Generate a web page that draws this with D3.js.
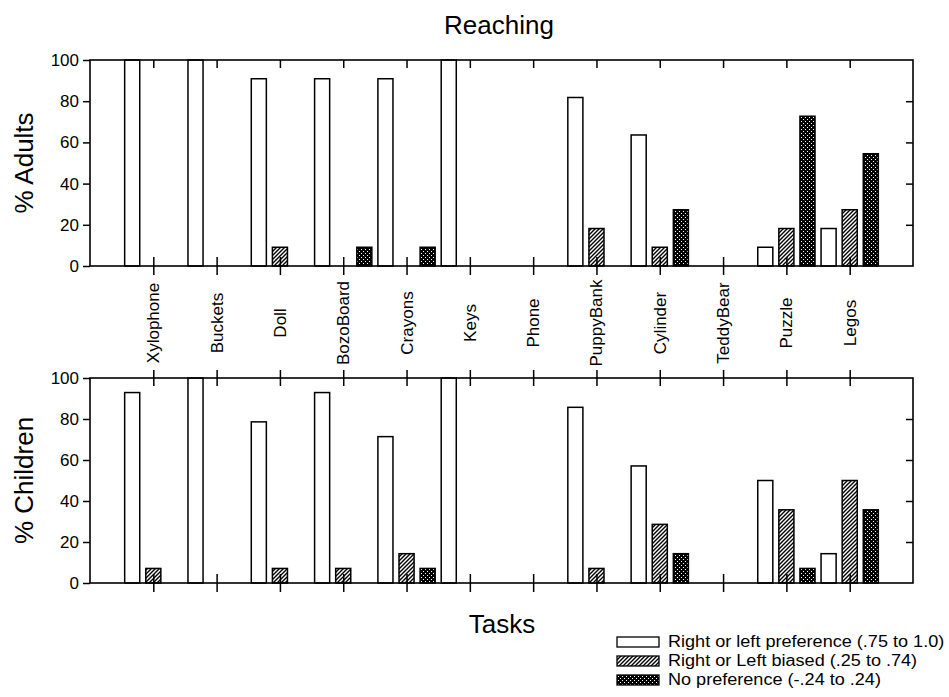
<!DOCTYPE html>
<html>
<head>
<meta charset="utf-8">
<script src="https://cdn.jsdelivr.net/npm/d3@7"></script>
<style>
  body { margin: 0; background: #fff; }
  svg { font-family: "Liberation Sans", Arial, sans-serif; }
</style>
</head>
<body>
<div id="chart"></div>
<script>
// tasks along the x axis
const tasks = ['Xylophone', 'Buckets', 'Doll', 'BozoBoard', 'Crayons', 'Keys',
  'Phone', 'PuppyBank', 'Cylinder', 'TeddyBear', 'Puzzle', 'Legos'];
const seriesKeys = ['pref', 'biased', 'none'];
const seriesLabels = ['Right or left preference (.75 to 1.0)',
  'Right or Left biased (.25 to .74)', 'No preference (-.24 to .24)'];

// % adults
const adultsPref   = [100, 100, 90.9, 90.9, 90.9, 100, 0, 81.8, 63.6, 0, 9.1, 18.2];
const adultsBiased = [0, 0, 9.1, 0, 0, 0, 0, 18.2, 9.1, 0, 18.2, 27.3];
const adultsNone   = [0, 0, 0, 9.1, 9.1, 0, 0, 0, 27.3, 0, 72.7, 54.5];
// % children
const childrenPref   = [92.9, 100, 78.6, 92.9, 71.4, 100, 0, 85.7, 57.1, 0, 50, 14.3];
const childrenBiased = [7.1, 0, 7.1, 7.1, 14.3, 0, 0, 7.1, 28.6, 0, 35.7, 50];
const childrenNone   = [0, 0, 0, 0, 7.1, 0, 0, 0, 14.3, 0, 7.1, 35.7];

const yTicks = [0, 20, 40, 60, 80, 100];

const width = 949, height = 697;
const left = 90, right = 913;

const svg = d3.select('#chart')
  .append('svg')
  .attr('width', width)
  .attr('height', height);

// fill patterns
const defs = svg.append('defs');
const hatch = defs.append('pattern')
  .attr('id', 'hatch')
  .attr('patternUnits', 'userSpaceOnUse')
  .attr('width', 4)
  .attr('height', 4);
hatch.append('rect').attr('width', 4).attr('height', 4).attr('fill', '#fff');
hatch.append('path')
  .attr('d', 'M-1,1 l2,-2 M0,4 l4,-4 M3,5 l2,-2')
  .attr('stroke', '#000')
  .attr('stroke-width', 1.4);

const dots = defs.append('pattern')
  .attr('id', 'dots')
  .attr('patternUnits', 'userSpaceOnUse')
  .attr('width', 4)
  .attr('height', 4);
dots.append('rect').attr('width', 4).attr('height', 4).attr('fill', '#000');
dots.append('rect').attr('x', 1).attr('y', 1).attr('width', 1).attr('height', 1).attr('fill', '#fff');
dots.append('rect').attr('x', 3).attr('y', 3).attr('width', 1).attr('height', 1).attr('fill', '#fff');

const fills = { pref: '#fff', biased: 'url(#hatch)', none: 'url(#dots)' };

// x scales: tick positions at 0..13, tasks sit on 1..12
const xLin = d3.scaleLinear().domain([0, 13]).range([left, right]);
const x = d3.scaleBand()
  .domain(tasks)
  .range([xLin(0.5), xLin(12.5)]);
const xSub = d3.scaleBand()
  .domain(seriesKeys)
  .range([0, x.bandwidth()])
  .paddingInner(0.286)
  .paddingOuter(0.143);

const xTickVals = d3.range(1, 13);

const drawPanel = (top, bottom, label, pref, biased, none, topTicksCross) => {
  const y = d3.scaleLinear().domain([0, 100]).range([bottom, top]);
  const g = svg.append('g');

  const rows = tasks.map((t, i) => ({ task: t, pref: pref[i], biased: biased[i], none: none[i] }));
  const bars = [];
  rows.forEach(r => seriesKeys.forEach(k => {
    if (r[k] > 0) bars.push({ task: r.task, key: k, value: r[k] });
  }));

  g.selectAll('rect.bar')
    .data(bars)
    .enter()
    .append('rect')
    .attr('class', 'bar')
    .attr('x', d => x(d.task) + xSub(d.key))
    .attr('y', d => y(d.value))
    .attr('width', xSub.bandwidth())
    .attr('height', d => y(0) - y(d.value))
    .attr('fill', d => fills[d.key])
    .attr('stroke', '#000')
    .attr('stroke-width', 1.5);

  // frame
  g.append('rect')
    .attr('x', left)
    .attr('y', top)
    .attr('width', right - left)
    .attr('height', bottom - top)
    .attr('fill', 'none')
    .attr('stroke', '#000')
    .attr('stroke-width', 1.6);

  // left axis with labels
  const yAxis = g.append('g')
    .attr('transform', `translate(${left},0)`)
    .call(d3.axisLeft(y).tickValues(yTicks).tickSize(7).tickPadding(4));
  yAxis.select('.domain').remove();
  yAxis.selectAll('line').attr('stroke-width', 1.5);
  yAxis.selectAll('text')
    .attr('font-size', 17)
    .attr('font-family', '"Liberation Sans", Arial, sans-serif')
    .attr('fill', '#000');

  // right axis, inward ticks
  const yRight = g.append('g')
    .attr('transform', `translate(${right},0)`)
    .call(d3.axisLeft(y).tickValues(yTicks.slice(1, -1)).tickSize(7).tickFormat(''));
  yRight.select('.domain').remove();
  yRight.selectAll('line').attr('stroke-width', 1.5);

  // bottom ticks crossing the axis
  [d3.axisBottom, d3.axisTop].forEach(ax => {
    const a = g.append('g')
      .attr('transform', `translate(0,${bottom})`)
      .call(ax(xLin).tickValues(xTickVals).tickSize(9).tickFormat(''));
    a.select('.domain').remove();
    a.selectAll('line').attr('stroke-width', 1.5);
  });

  // top ticks
  const topAxes = topTicksCross ? [d3.axisBottom, d3.axisTop] : [d3.axisBottom];
  topAxes.forEach(ax => {
    const a = g.append('g')
      .attr('transform', `translate(0,${top})`)
      .call(ax(xLin).tickValues(xTickVals).tickSize(8).tickFormat(''));
    a.select('.domain').remove();
    a.selectAll('line').attr('stroke-width', 1.5);
  });

  // y title
  g.append('text')
    .attr('transform', `translate(33,${(top + bottom) / 2}) rotate(-90)`)
    .attr('text-anchor', 'middle')
    .attr('font-size', 26)
    .text(label);
};

drawPanel(60, 266, '% Adults', adultsPref, adultsBiased, adultsNone, false);
drawPanel(378, 583, '% Children', childrenPref, childrenBiased, childrenNone, true);

// task labels between panels
svg.append('g')
  .selectAll('text')
  .data(tasks)
  .enter()
  .append('text')
  .attr('transform', d => `translate(${x(d) + x.bandwidth() / 2 + 6},323) rotate(-90)`)
  .attr('text-anchor', 'middle')
  .attr('font-size', 17)
  .text(d => d);

// titles
svg.append('text')
  .attr('x', 499)
  .attr('y', 34)
  .attr('text-anchor', 'middle')
  .attr('font-size', 26)
  .text('Reaching');

svg.append('text')
  .attr('x', 502)
  .attr('y', 633)
  .attr('text-anchor', 'middle')
  .attr('font-size', 26)
  .text('Tasks');

// legend
const legend = svg.append('g')
  .attr('transform', 'translate(617,637)');
const items = legend.selectAll('g')
  .data(seriesKeys)
  .enter()
  .append('g')
  .attr('transform', (d, i) => `translate(0,${i * 19})`);
items.append('rect')
  .attr('width', 42)
  .attr('height', 10)
  .attr('fill', d => fills[d])
  .attr('stroke', '#000')
  .attr('stroke-width', 1.3);
items.append('text')
  .attr('transform', 'translate(51,10) scale(1.13,1)')
  .attr('font-size', 16)
  .text((d, i) => seriesLabels[i]);
</script>
</body>
</html>
